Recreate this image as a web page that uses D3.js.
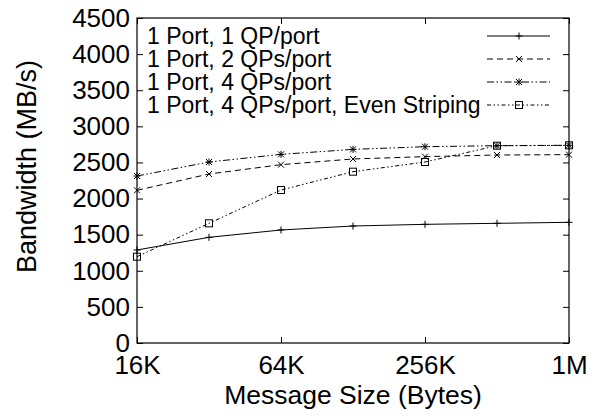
<!DOCTYPE html>
<html>
<head>
<meta charset="utf-8">
<script src="https://cdn.jsdelivr.net/npm/d3@7"></script>
<style>
  html, body { margin: 0; padding: 0; background: #fff; }
  svg { display: block; }
  text { font-family: "Liberation Sans", Arial, Helvetica, sans-serif; fill: #000; }
</style>
</head>
<body>
<svg id="chart" width="598" height="418"></svg>
<script>
// ---- data ----
const sizeLabels = ["16K", "32K", "64K", "128K", "256K", "512K", "1M"];
const sizeBytes = [16384, 32768, 65536, 131072, 262144, 524288, 1048576];
const seriesNames = [
  "1 Port, 1 QP/port",
  "1 Port, 2 QPs/port",
  "1 Port, 4 QPs/port",
  "1 Port, 4 QPs/port, Even Striping"
];
const s1 = [1288, 1463, 1565, 1620, 1643, 1657, 1671];
const s2 = [2114, 2340, 2469, 2548, 2580, 2603, 2608];
const s3 = [2312, 2506, 2612, 2681, 2718, 2732, 2737];
const s4 = [1195, 1657, 2118, 2372, 2506, 2732, 2737];
const xTickValues = [16384, 65536, 262144, 1048576];
const xTickLabels = ["16K", "64K", "256K", "1M"];
const yTickValues = [0, 500, 1000, 1500, 2000, 2500, 3000, 3500, 4000, 4500];

// ---- layout ----
const W = 598, H = 418;
const L = 137, R = 569, T = 18, B = 343;
const svg = d3.select("#chart");

const x = d3.scaleLog().base(2).domain([16384, 1048576]).range([L, R]);
const y = d3.scaleLinear().domain([0, 4500]).range([B, T]);

const styles = [
  { dash: null, marker: "plus" },
  { dash: "6,4", marker: "cross" },
  { dash: "7,2.5,1.5,2.5,1.5,2.5", marker: "star" },
  { dash: "4,2.5,1.5,2.5,1.5,2.5", marker: "square" }
];
const allSeries = [s1, s2, s3, s4];

// axes
const fontSize = 26;
const yAxis = d3.axisLeft(y).tickValues(yTickValues).tickSize(-6).tickPadding(7).tickFormat(d3.format("d"));
const gy = svg.append("g").attr("transform", `translate(${L},0)`).call(yAxis);
const yAxisR = d3.axisRight(y).tickValues(yTickValues).tickSize(-6).tickFormat("");
const gyr = svg.append("g").attr("transform", `translate(${R},0)`).call(yAxisR);
const xAxis = d3.axisBottom(x).tickValues(xTickValues).tickSize(-6).tickPadding(13)
  .tickFormat((d, i) => xTickLabels[i]);
const gx = svg.append("g").attr("transform", `translate(0,${B})`).call(xAxis);
const xAxisT = d3.axisTop(x).tickValues(xTickValues).tickSize(-6).tickFormat("");
const gxt = svg.append("g").attr("transform", `translate(0,${T})`).call(xAxisT);

[gy, gyr, gx, gxt].forEach(g => {
  g.select(".domain").remove();
  g.attr("font-family", null).attr("font-size", null);
  g.selectAll(".tick line").attr("stroke", "#000").attr("stroke-width", 1);
  g.selectAll(".tick text").attr("font-size", fontSize).attr("fill", "#000");
});

// border
svg.append("rect").attr("x", L).attr("y", T).attr("width", R - L).attr("height", B - T)
  .attr("fill", "none").attr("stroke", "#000").attr("stroke-width", 1.2);

// axis titles
svg.append("text").attr("x", (L + R) / 2).attr("y", 404).attr("text-anchor", "middle")
  .attr("font-size", 26.5).text("Message Size (Bytes)");
svg.append("text").attr("transform", "translate(36,166.5) rotate(-90)").attr("text-anchor", "middle")
  .attr("font-size", 27).text("Bandwidth (MB/s)");

// markers
function marker(g, type, cx, cy) {
  const p = 3.5, c = 3;
  if (type === "plus" || type === "star") {
    g.append("path").attr("d", `M${cx - p},${cy}H${cx + p}M${cx},${cy - p}V${cy + p}`)
      .attr("stroke", "#000").attr("stroke-width", 1).attr("fill", "none");
  }
  if (type === "cross" || type === "star") {
    g.append("path").attr("d", `M${cx - c},${cy - c}L${cx + c},${cy + c}M${cx - c},${cy + c}L${cx + c},${cy - c}`)
      .attr("stroke", "#000").attr("stroke-width", 1).attr("fill", "none");
  }
  if (type === "square") {
    g.append("rect").attr("x", cx - 3.5).attr("y", cy - 3.5).attr("width", 7).attr("height", 7)
      .attr("stroke", "#000").attr("stroke-width", 1).attr("fill", "none");
  }
}

const line = d3.line().x((d, i) => x(sizeBytes[i])).y(d => y(d));
allSeries.forEach((vals, k) => {
  const g = svg.append("g");
  g.append("path").datum(vals).attr("d", line).attr("fill", "none")
    .attr("stroke", "#000").attr("stroke-width", 1)
    .attr("stroke-dasharray", styles[k].dash);
  vals.forEach((v, i) => marker(g, styles[k].marker, x(sizeBytes[i]), y(v)));
});

// legend
const legY = [36, 59, 82, 105];
const legendFont = 23;
seriesNames.forEach((name, k) => {
  const g = svg.append("g");
  g.append("text").attr("x", 147).attr("y", legY[k]).attr("dy", "0.36em")
    .attr("font-size", legendFont).text(name);
  g.append("line").attr("x1", 487).attr("x2", 550).attr("y1", legY[k]).attr("y2", legY[k])
    .attr("stroke", "#000").attr("stroke-width", 1).attr("stroke-dasharray", styles[k].dash);
  marker(g, styles[k].marker, 519, legY[k]);
});
</script>
</body>
</html>
